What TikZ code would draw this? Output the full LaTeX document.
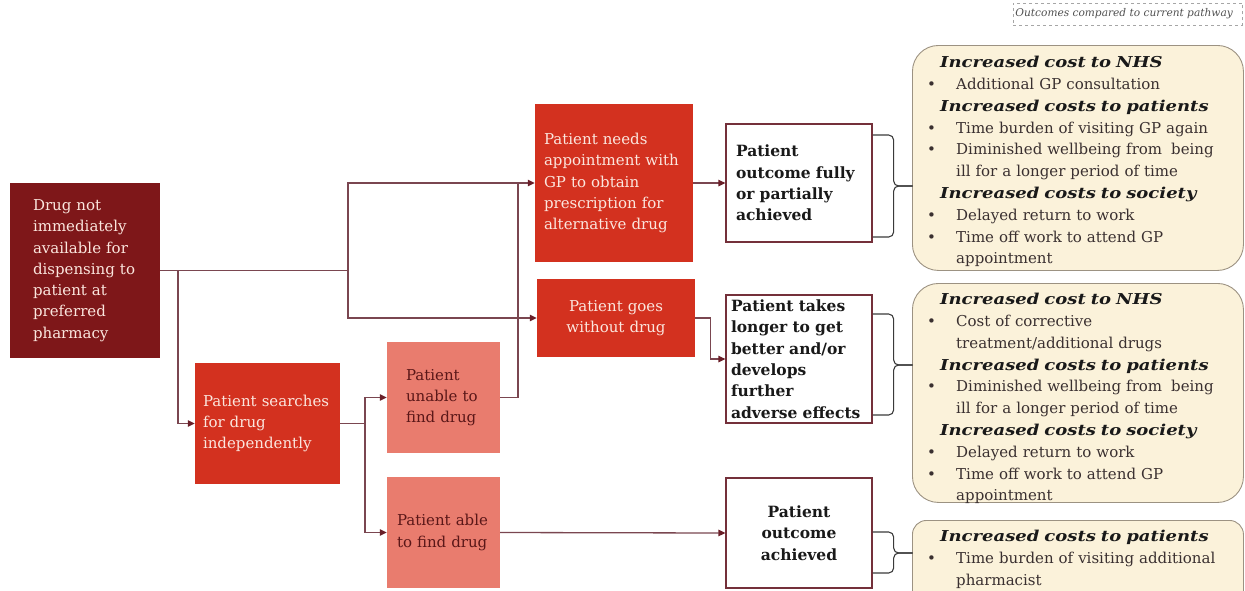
\documentclass[tikz,border=0pt]{standalone}
\usepackage{fontspec}
\setmainfont{DejaVu Serif}
\newfontfamily\headfont{DejaVu Serif}[FakeStretch=1.2]
\usetikzlibrary{arrows.meta,calc}

\definecolor{maroonbox}{HTML}{7E1719}
\definecolor{redbox}{HTML}{D3311F}
\definecolor{salmonbox}{HTML}{E97C6E}
\definecolor{lighttxt}{HTML}{FBE6DE}
\definecolor{darktxt}{HTML}{5A1718}
\definecolor{linec}{HTML}{7A4650}
\definecolor{tipc}{HTML}{6A1E28}
\definecolor{outline}{HTML}{74303A}
\definecolor{cream}{HTML}{FBF2DA}
\definecolor{creamedge}{HTML}{9C9282}
\definecolor{bracec}{HTML}{3A3A3A}
\definecolor{bodytxt}{HTML}{3A3030}
\definecolor{hdrtxt}{HTML}{505050}

\tikzset{
  stepbox/.style={rectangle, inner ysep=0pt, align=left,
    font=\fontsize{15}{21.3}\selectfont},
  darkstep/.style={stepbox, fill=maroonbox, text=lighttxt},
  redstep/.style={stepbox, fill=redbox, text=lighttxt},
  palestep/.style={stepbox, fill=salmonbox, text=darktxt},
  outcomebox/.style={rectangle, draw=outline, line width=1.3pt, fill=white,
    inner ysep=0pt, align=left, text=black!90,
    font=\fontsize{15.5}{21.3}\selectfont\bfseries},
  costbox/.style={rectangle, rounded corners=#1, draw=creamedge, line width=0.9pt,
    fill=cream, anchor=north west, inner sep=0pt},
  costtext/.style={anchor=north west, inner sep=0pt, text width=320pt, align=left,
    text=bodytxt, font=\fontsize{15}{21.8}\selectfont},
  conn/.style={draw=linec, line width=1.3pt},
  arrowc/.style={conn, -{Triangle[length=7pt,width=6.5pt,color=tipc]}},
  bracel/.style={draw=bracec, line width=1.1pt, rounded corners=5pt},
}

% cost list helpers
\newcommand\hdline[1]{\hspace*{13pt}{\color{black!90}\headfont\bfseries\itshape #1}}
\newcommand\bulline[1]{\makebox[29pt][l]{\textbullet}#1}
\newcommand\contline[1]{\hspace*{29pt}#1}

\begin{document}
\begin{tikzpicture}[x=1pt,y=-1pt]
\useasboundingbox (0,0) rectangle (1245,590);
\clip (0,0) rectangle (1245,590);

% ---- pathway steps
\node[darkstep, minimum height=175pt, inner xsep=23pt, text width=104pt] (A) at (85,270.5)
  {Drug not\\immediately\\available for\\dispensing to\\patient at\\preferred\\pharmacy};
\node[redstep, minimum height=121pt, inner xsep=8pt, text width=129pt] (B) at (267.5,423.5)
  {Patient searches\\for drug\\independently};
\node[palestep, minimum height=111pt, inner xsep=19pt, text width=75pt] (C) at (443.5,397.5)
  {Patient\\unable to\\find drug};
\node[palestep, minimum height=111pt, inner xsep=10pt, text width=93pt] (D) at (443.5,532.5)
  {Patient able\\to find drug};
\node[redstep, minimum height=158pt, inner xsep=9pt, text width=140pt] (E) at (614,183)
  {Patient needs\\appointment with\\GP to obtain\\prescription for\\alternative drug};
\node[redstep, align=center, minimum height=78pt, inner xsep=10pt, text width=138pt] (F) at (616,318)
  {Patient goes\\without drug};

% ---- patient outcomes
\node[outcomebox, minimum height=118pt, inner xsep=10pt, text width=126pt] (G) at (799,183)
  {Patient\\outcome fully\\or partially\\achieved};
\node[outcomebox, minimum height=128pt, inner xsep=5pt, text width=136pt] (H) at (799,359)
  {Patient takes\\longer to get\\better and/or\\develops\\further\\adverse effects};
\node[outcomebox, align=center, minimum height=110pt, inner xsep=6pt, text width=134pt] (I) at (799,533)
  {Patient\\outcome\\achieved};

% ---- connectors
\coordinate (j1) at (348,270.5);
\coordinate (j2) at (178,270.5);
\coordinate (j3) at (365,423.5);
\coordinate (j4) at (518,183);
\draw[conn] (A.east) -- (j1);
\draw[arrowc] (j1) |- (E.west);
\draw[arrowc] (j1) |- (F.west);
\draw[arrowc] (j2) |- (B.west);
\draw[conn] (B.east) -- (j3);
\draw[arrowc] (j3) |- (C.west);
\draw[arrowc] (j3) |- (D.west);
\draw[conn] (C.east) -| (j4);
\draw[arrowc] (E.east) -- (G.west);
\draw[arrowc] (F.east) -- ++(15,0) |- (H.west);
\draw[arrowc] (D.east) -- (I.west);

% ---- cost panels
\node[costbox=26pt, minimum width=331pt, minimum height=225pt] (O1) at (912,45) {};
\node[costbox=26pt, minimum width=331pt, minimum height=219pt] (O2) at (912,283) {};
\node[costbox=14pt, minimum width=331pt, minimum height=95pt] (O3) at (912,520) {};

\node[costtext] (T1) at ($(O1.north west)+(15,11)$) {%
  \hdline{Increased cost to NHS}\\
  \bulline{Additional GP consultation}\\
  \hdline{Increased costs to patients}\\
  \bulline{Time burden of visiting GP again}\\
  \bulline{Diminished wellbeing from\hspace{9pt}being}\\
  \contline{ill for a longer period of time}\\
  \hdline{Increased costs to society}\\
  \bulline{Delayed return to work}\\
  \bulline{Time off work to attend GP}\\
  \contline{appointment}};
\node[costtext] (T2) at ($(O2.north west)+(15,10)$) {%
  \hdline{Increased cost to NHS}\\
  \bulline{Cost of corrective}\\
  \contline{treatment/additional drugs}\\
  \hdline{Increased costs to patients}\\
  \bulline{Diminished wellbeing from\hspace{9pt}being}\\
  \contline{ill for a longer period of time}\\
  \hdline{Increased costs to society}\\
  \bulline{Delayed return to work}\\
  \bulline{Time off work to attend GP}\\
  \contline{appointment}};
\node[costtext] (T3) at ($(O3.north west)+(15,10)$) {%
  \hdline{Increased costs to patients}\\
  \bulline{Time burden of visiting additional}\\
  \contline{pharmacist}};

% ---- braces from outcomes to cost panels
\draw[bracel] (G.east) ++(0,-48) -- ++(21,0) -- ++(0,51) -- ++(19,0);
\draw[bracel] (G.east) ++(0,54) -- ++(21,0) -- ++(0,-51) -- ++(19,0);
\draw[bracel] (H.east) ++(0,-45) -- ++(21,0) -- ++(0,51) -- ++(19,0);
\draw[bracel] (H.east) ++(0,56) -- ++(21,0) -- ++(0,-50) -- ++(19,0);
\draw[bracel] (I.east) ++(0,-1) -- ++(21,0) -- ++(0,21) -- ++(19,0);
\draw[bracel] (I.east) ++(0,40) -- ++(21,0) -- ++(0,-20) -- ++(19,0);

% ---- heading
\node[draw=gray!70, dashed, line width=0.8pt, anchor=west, inner xsep=2pt, inner ysep=2pt,
  minimum height=22pt, text=hdrtxt, font=\fontsize{10.6}{13}\selectfont\itshape] (hdr)
  at (1013,14) {Outcomes compared to current pathway\hspace*{8pt}};
\end{tikzpicture}
\end{document}
